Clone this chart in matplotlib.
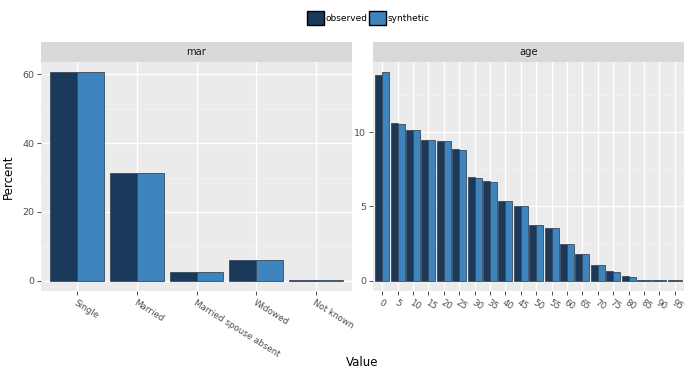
import numpy as np
import matplotlib.pyplot as plt
from matplotlib.patches import Patch

# data
mar_cats = ['Single', 'Married', 'Married spouse absent', 'Widowed', 'Not known']
mar_obs = [60.6, 31.45, 2.5, 5.85, 0.3]
mar_syn = [60.6, 31.45, 2.5, 5.85, 0.3]

age_cats = ['0', '5', '10', '15', '20', '25', '30', '35', '40', '45',
            '50', '55', '60', '65', '70', '75', '80', '85', '90', '95']
age_obs = [13.87, 10.61, 10.16, 9.46, 9.39, 8.85, 6.97, 6.72, 5.35, 5.01,
           3.75, 3.55, 2.47, 1.78, 1.06, 0.63, 0.31, 0.07, 0.02, 0.01]
age_syn = [14.02, 10.54, 10.16, 9.44, 9.39, 8.81, 6.90, 6.67, 5.33, 5.01,
           3.75, 3.55, 2.47, 1.82, 1.06, 0.61, 0.27, 0.07, 0.02, 0.01]

c_obs = '#1b3a5b'
c_syn = '#3e84bf'
edge = '#3a4a5a'
panel_bg = '#ebebeb'
txt = '#4d4d4d'

W, H = 685, 368
fig = plt.figure(figsize=(6.85, 3.68), dpi=100)

def fx(px):
    return px / W

def fy(py):
    return 1 - py / H

def panel(x0, x1, y0, y1, title, cats, obs, syn, yticks, yminor):
    ax = fig.add_axes([fx(x0), fy(y1), fx(x1 - x0), (y1 - y0) / H])
    ax.set_facecolor(panel_bg)
    n = len(cats)
    x = np.arange(1, n + 1)
    ax.bar(x - 0.225, obs, width=0.45, color=c_obs, edgecolor=edge, linewidth=0.6, zorder=3)
    ax.bar(x + 0.225, syn, width=0.45, color=c_syn, edgecolor=edge, linewidth=0.6, zorder=3)
    top = max(max(obs), max(syn))
    ax.set_ylim(-0.05 * top, top * 1.05)
    ax.set_xlim(0.4, n + 0.6)
    ax.set_yticks(yticks)
    ax.set_yticks(yminor, minor=True)
    ax.set_xticks(x)
    ax.grid(True, which='major', color='white', linewidth=1.0, zorder=0)
    ax.grid(True, which='minor', axis='y', color='#f5f5f5', linewidth=0.5, zorder=0)
    for s in ax.spines.values():
        s.set_visible(False)
    ax.tick_params(axis='both', which='major', color='#333333', length=3, labelsize=6.8,
                   labelcolor=txt, width=0.6, pad=2)
    ax.tick_params(axis='y', which='minor', length=0)
    ax.set_yticklabels([str(v) for v in yticks])
    ax.set_xticklabels(cats, rotation=-32, ha='left', va='top', rotation_mode='anchor',
                       fontsize=6.3, color=txt)
    # strip above the panel
    sax = fig.add_axes([fx(x0), fy(y0), fx(x1 - x0), 20 / H])
    sax.set_facecolor('#d9d9d9')
    sax.set_xticks([])
    sax.set_yticks([])
    for s in sax.spines.values():
        s.set_visible(False)
    sax.text(0.5, 0.5, title, ha='center', va='center', fontsize=7.2, color='#1a1a1a',
             transform=sax.transAxes)
    return ax

ax1 = panel(41, 352, 62, 291, 'mar', mar_cats, mar_obs, mar_syn,
            [0, 20, 40, 60], [10, 30, 50])
ax1.set_ylabel('Percent', fontsize=8.5, color='black', labelpad=5)

ax2 = panel(373, 684, 62, 291, 'age', age_cats, age_obs, age_syn,
            [0, 5, 10], [2.5, 7.5, 12.5])

fig.text(fx(362), fy(362), 'Value', ha='center', va='center', fontsize=8.5)

# legend
handles = [Patch(facecolor=c_obs, edgecolor='black', linewidth=1.0, label='observed'),
           Patch(facecolor=c_syn, edgecolor='black', linewidth=1.0, label='synthetic')]
fig.legend(handles=handles, loc='center', bbox_to_anchor=(fx(368), fy(18)), ncol=2,
           frameon=False, fontsize=6.5, handlelength=1.9, handleheight=1.9,
           handletextpad=0.15, columnspacing=0.2, borderpad=0)

fig.savefig('out.png', dpi=100)
